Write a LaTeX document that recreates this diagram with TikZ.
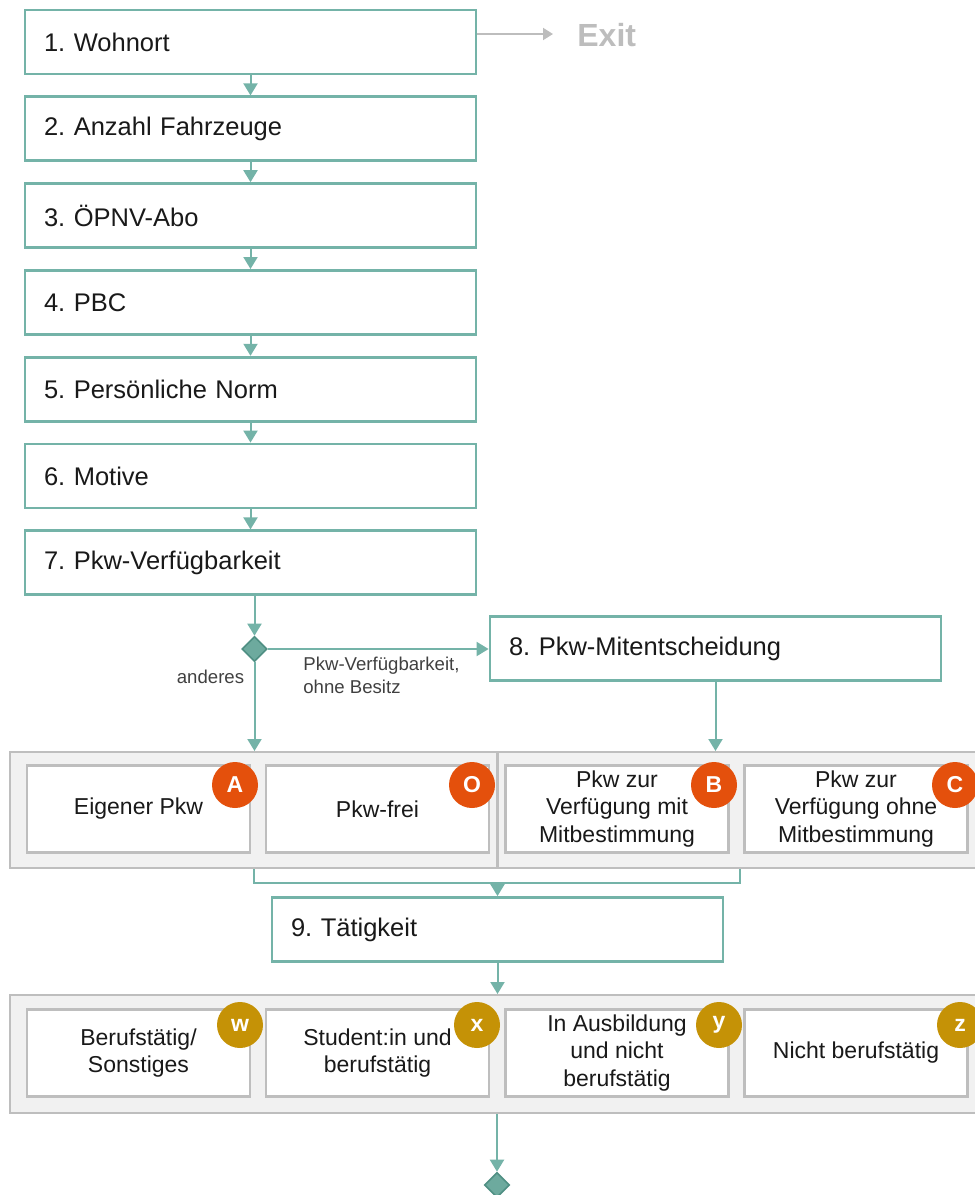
\documentclass[tikz,border=0pt]{standalone}
\usepackage{fontspec}
\setmainfont{Liberation Sans}
\usetikzlibrary{arrows.meta,shapes.geometric}
\frenchspacing

\definecolor{flow}{HTML}{74B3A8}
\definecolor{flowfill}{HTML}{6DAA9E}
\definecolor{flowdark}{HTML}{4F8F83}
\definecolor{grpfill}{HTML}{F1F1F1}
\definecolor{grpline}{HTML}{BEBEBE}
\definecolor{badgeorange}{HTML}{E4500C}
\definecolor{badgegold}{HTML}{C59206}
\definecolor{exitgray}{HTML}{BDBDBD}
\definecolor{labelgray}{HTML}{404040}

\tikzset{
  mainbox/.style={draw=flow, line width=1.4pt, fill=white, minimum height=32pt,
    text width=206.5pt, inner xsep=9.5pt, inner ysep=0pt, align=left,
    font=\fontsize{12.75}{15}\selectfont, text=black!90},
  groupbox/.style={draw=grpline, line width=1pt, fill=grpfill, inner sep=0pt},
  optbox/.style={draw=grpline, line width=1.2pt, fill=white, minimum width=111.5pt,
    minimum height=43.5pt, inner sep=0pt, align=center,
    font=\fontsize{11.5}{13.6}\selectfont, text=black!90},
  badge/.style={circle, minimum size=23pt, inner sep=0pt, text=white,
    font=\fontsize{11.5}{13}\bfseries},
  orangebadge/.style={badge, fill=badgeorange},
  goldbadge/.style={badge, fill=badgegold},
  decision/.style={diamond, aspect=1, draw=flowdark, fill=flowfill, line width=0.8pt,
    minimum width=12.5pt, minimum height=12.5pt, inner sep=0pt},
  arr/.style={draw=flow, line width=1pt, -{Triangle[width=7pt,length=6pt]}},
  thinline/.style={draw=flow, line width=0.6pt},
  exitarr/.style={draw=exitgray, line width=1pt, -{Triangle[width=6pt,length=5pt]}},
  edgelabel/.style={inner sep=0pt, text=labelgray, font=\fontsize{9.3}{11.5}\selectfont, align=left}
}

\begin{document}
\begin{tikzpicture}[x=0.5pt,y=-0.5pt]
\useasboundingbox (0,0) rectangle (975,1195);

% main question sequence
\node[mainbox] (n1) at (250.5,42)    {1. Wohnort};
\node[mainbox] (n2) at (250.5,128.8) {2. Anzahl Fahrzeuge};
\node[mainbox] (n3) at (250.5,215.6) {3. ÖPNV-Abo};
\node[mainbox] (n4) at (250.5,302.4) {4. PBC};
\node[mainbox] (n5) at (250.5,389.2) {5. Persönliche Norm};
\node[mainbox] (n6) at (250.5,476)   {6. Motive};
\node[mainbox] (n7) at (250.5,562.8) {7. Pkw-Verfügbarkeit};
\node[mainbox] (n8) at (715.5,648.5) {8. Pkw-Mitentscheidung};
\node[mainbox] (n9) at (497.5,929.5) {9. Tätigkeit};

% exit branch
\coordinate (exitend) at (553,34);
\node[anchor=west, inner sep=0pt, text=exitgray, font=\fontsize{16}{19}\bfseries] (exit) at (577,35) {Exit};
\draw[exitarr] (n1.east |- exitend) -- (exitend);

\foreach \a/\b in {n1/n2,n2/n3,n3/n4,n4/n5,n5/n6,n6/n7}
  \draw[arr] (\a.south) -- (\b.north);

% decision after question 7
\node[decision] (d1) at (254.5,649) {};
\draw[arr] (n7.south -| d1) -- (d1.north);
\draw[arr] (d1.east) -- (n8.west |- d1);
\node[edgelabel, anchor=center] (lab1) at (210.5,677) {anderes};
\node[edgelabel, anchor=west] (lab2) at (303,675) {Pkw-Verfügbarkeit,\\ohne Besitz};

% car availability groups
\node[groupbox, minimum width=243.5pt, minimum height=58pt] (g1) at (253.5,810) {};
\node[groupbox, minimum width=246pt, minimum height=58pt] (g2) at (744,810) {};

\node[optbox] (oA) at (138.5,809) {Eigener Pkw};
\node[optbox] (oO) at (377.5,809) {Pkw-frei};
\node[optbox] (oB) at (617,809)   {Pkw zur\\Verfügung mit\\Mitbestimmung};
\node[optbox] (oC) at (856,809)   {Pkw zur\\Verfügung ohne\\Mitbestimmung};

\node[orangebadge] (bA) at (235,785) {A};
\node[orangebadge] (bO) at (472,785) {O};
\node[orangebadge] (bB) at (714,785) {B};
\node[orangebadge] (bC) at (955,785) {C};

\draw[arr] (d1.south) -- (d1.south |- g1.north);
\draw[arr] (n8.south) -- (n8.south |- g2.north);

% merge into question 9
\coordinate (j1) at (254,883);
\coordinate (j2) at (740,883);
\draw[thinline] (j1 |- g1.south) -- (j1) -- (j2) -- (j2 |- g2.south);
\draw[arr] (j1 -| n9) -- (n9.north);

% activity group
\node[groupbox, minimum width=490pt, minimum height=59pt] (g3) at (500,1054) {};

\node[optbox] (ow) at (138.5,1053) {Berufstätig/\\Sonstiges};
\node[optbox] (ox) at (377.5,1053) {Student:in und\\berufstätig};
\node[optbox] (oy) at (617,1053)   {In Ausbildung\\und nicht\\berufstätig};
\node[optbox] (oz) at (856,1053)   {Nicht berufstätig};

\node[goldbadge] (bw) at (240,1025) {w};
\node[goldbadge] (bx) at (477,1025) {x};
\node[goldbadge] (by) at (719,1025) {y};
\node[goldbadge] (bz) at (960,1025) {z};

\draw[arr] (n9.south) -- (n9.south |- g3.north);

% final decision
\node[decision] (d2) at (497,1185) {};
\draw[arr] (d2 |- g3.south) -- (d2.north);
\end{tikzpicture}
\end{document}
